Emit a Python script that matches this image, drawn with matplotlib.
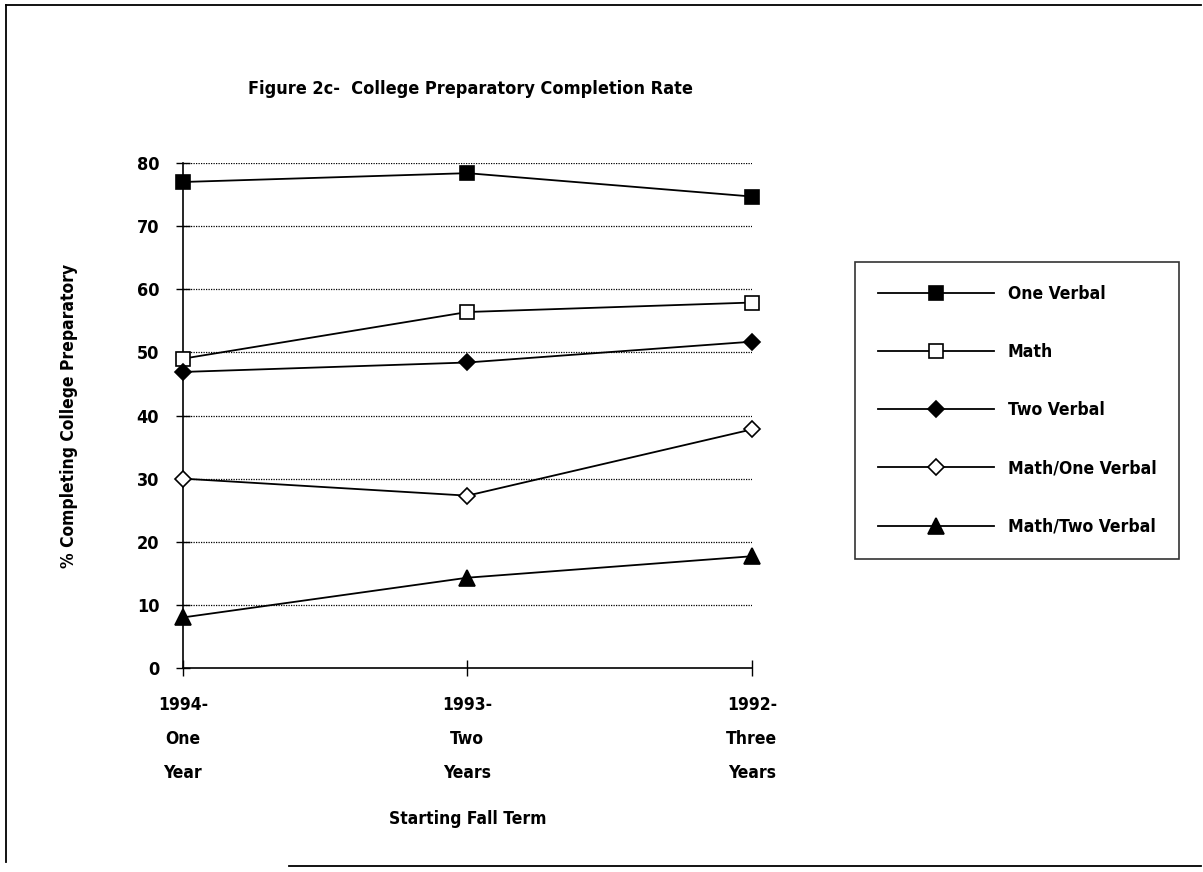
import matplotlib
matplotlib.use("Agg")
from matplotlib import pyplot as plt
from matplotlib.lines import Line2D

terms = ["1994-\nOne\nYear", "1993-\nTwo\nYears", "1992-\nThree\nYears"]
one_verbal = [77.0, 78.4, 74.7]
math = [49.0, 56.4, 57.9]
two_verbal = [46.9, 48.4, 51.7]
math_one_verbal = [30.0, 27.3, 37.8]
math_two_verbal = [8.0, 14.3, 17.7]

series = [
    ("One Verbal", one_verbal, "s", "black"),
    ("Math", math, "s", "white"),
    ("Two Verbal", two_verbal, "D", "black"),
    ("Math/One Verbal", math_one_verbal, "D", "white"),
    ("Math/Two Verbal", math_two_verbal, "^", "black"),
]

plt.rcParams["font.family"] = ["DejaVu Sans"]
plt.rcParams["font.stretch"] = "condensed"
plt.rcParams["font.weight"] = "bold"
plt.rcParams["axes.labelweight"] = "bold"
plt.rcParams["font.size"] = 12

fig = plt.figure(figsize=(12.03, 8.72), dpi=100)
ax = fig.add_axes([0.152, 0.234, 0.473, 0.579])

x = list(range(len(terms)))
handles = []
for name, vals, mk, fc in series:
    ms = 10 if mk == "s" else (8.5 if mk == "D" else 11)
    h, = ax.plot(x, vals, color="black", lw=1.3, marker=mk, markersize=ms,
                 markerfacecolor=fc, markeredgecolor="black", markeredgewidth=1.2,
                 clip_on=False, zorder=3)
    handles.append(h)

ax.set_xlim(0, 2)
ax.set_ylim(0, 80)
ax.set_yticks(range(0, 81, 10))
ax.set_xticks(x)
ax.set_xticklabels(terms, linespacing=2.15)
for y in range(10, 81, 10):
    ax.axhline(y, color="black", lw=0.9, ls=(0, (1, 1)), zorder=1)

for s in ["top", "right"]:
    ax.spines[s].set_visible(False)
ax.spines["left"].set_linewidth(1.2)
ax.spines["bottom"].set_linewidth(1.2)
ax.tick_params(axis="y", direction="inout", length=10, width=1, pad=12, labelsize=13)
ax.tick_params(axis="x", direction="inout", length=12, width=1, pad=14, labelsize=12.5)

ax.set_ylabel("% Completing College Preparatory", fontsize=12.5, labelpad=42)
ax.set_xlabel("Starting Fall Term", fontsize=12.5, labelpad=20)
fig.text(0.391, 0.898, "Figure 2c-  College Preparatory Completion Rate",
         ha="center", va="center", fontsize=13)

leg = fig.legend(handles, [s[0] for s in series], loc="upper left",
                 bbox_to_anchor=(0.711, 0.6995), borderaxespad=0, frameon=True,
                 fancybox=False, edgecolor="black", handlelength=6.6,
                 handletextpad=0.8, labelspacing=2.3, borderpad=1.3, fontsize=12.6)
leg.get_frame().set_linewidth(1.2)

# page frame
fig.add_artist(Line2D([0.005, 0.005], [0.012, 0.994], color="black", lw=1.3))
fig.add_artist(Line2D([0.005, 0.998], [0.994, 0.994], color="black", lw=1.3))
fig.add_artist(Line2D([0.24, 0.998], [0.007, 0.007], color="black", lw=1.3))

fig.savefig("out.png", dpi=100)
